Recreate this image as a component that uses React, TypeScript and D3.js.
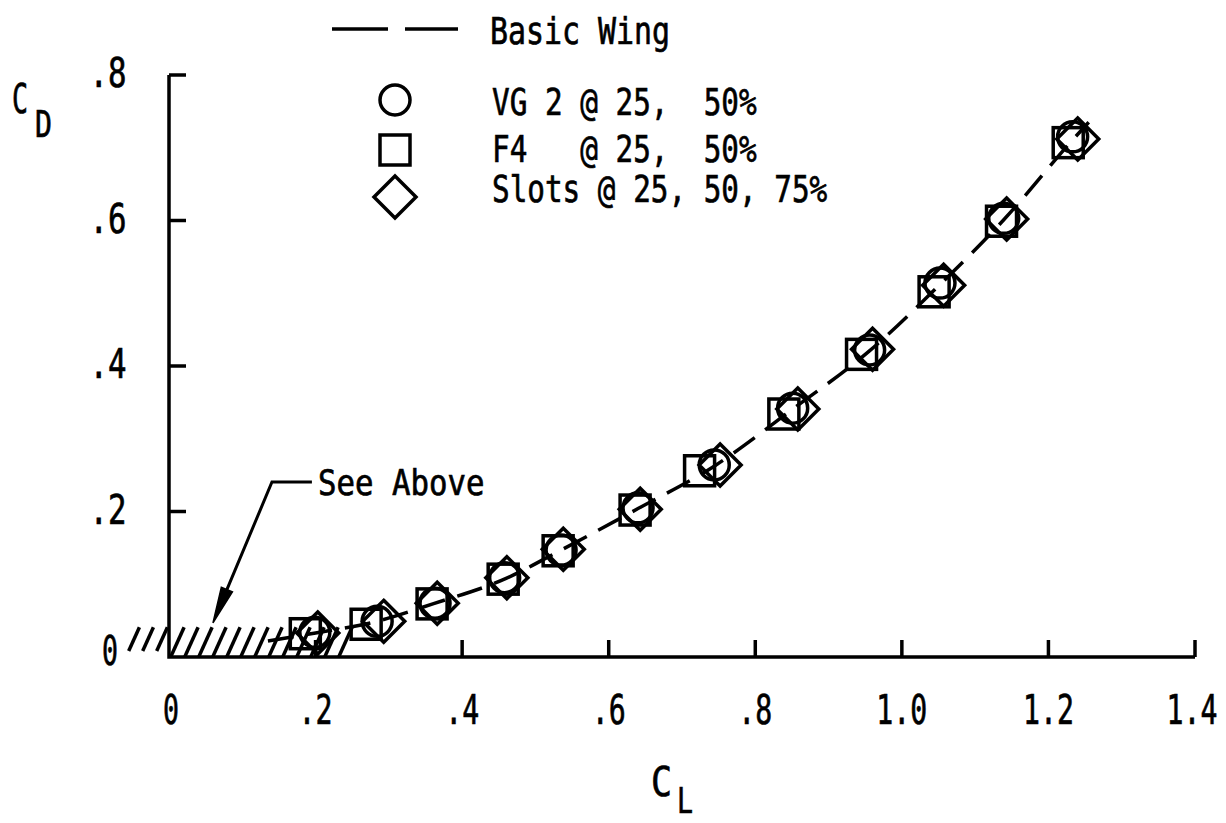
import React from "react";
import * as d3 from "d3";

// ---- Data ----
const clTicks = [0, 0.2, 0.4, 0.6, 0.8, 1.0, 1.2, 1.4];
const clTickLabels = ["0", ".2", ".4", ".6", ".8", "1.0", "1.2", "1.4"];
const cdTicks = [0, 0.2, 0.4, 0.6, 0.8];
const cdTickLabels = ["0", ".2", ".4", ".6", ".8"];

// Basic wing (dashed curve)
const basicCL = [0.135, 0.2, 0.28, 0.36, 0.46, 0.535, 0.64, 0.745, 0.85, 0.955, 1.05, 1.14, 1.235, 1.255];
const basicCD = [0.022, 0.033, 0.048, 0.073, 0.108, 0.147, 0.204, 0.263, 0.34, 0.42, 0.51, 0.602, 0.713, 0.735];

// VG 2 @ 25, 50% (circles)
const vgCL = [0.199, 0.284, 0.363, 0.458, 0.535, 0.64, 0.744, 0.851, 0.956, 1.052, 1.139, 1.233];
const vgCD = [0.034, 0.049, 0.074, 0.109, 0.147, 0.205, 0.264, 0.342, 0.422, 0.514, 0.603, 0.715];

// F4 @ 25, 50% (squares)
const f4CL = [0.186, 0.269, 0.359, 0.456, 0.531, 0.636, 0.724, 0.839, 0.945, 1.044, 1.136, 1.227];
const f4CD = [0.032, 0.045, 0.073, 0.107, 0.146, 0.202, 0.256, 0.334, 0.416, 0.502, 0.599, 0.707];

// Slots @ 25, 50, 75% (diamonds)
const slotCL = [0.203, 0.293, 0.366, 0.461, 0.538, 0.643, 0.752, 0.858, 0.96, 1.057, 1.143, 1.24];
const slotCD = [0.033, 0.049, 0.074, 0.109, 0.148, 0.203, 0.264, 0.341, 0.423, 0.511, 0.602, 0.712];

// Hatched "see above" region (CL range, CD height)
const hatchCL = [-0.055, 0.245];
const hatchCD = 0.041;

// "See Above" annotation anchors (data coords)
const noteTip = [0.06, 0.047];
const noteElbow = [0.1405, 0.2405];
const noteEnd = [0.195, 0.2405];

const legendItems = [
  { shape: "circle", label: "VG 2 @ 25,  50%" },
  { shape: "square", label: "F4   @ 25,  50%" },
  { shape: "diamond", label: "Slots @ 25, 50, 75%" },
];

const FONT = "'DejaVu Sans Mono', 'Liberation Mono', monospace";
const MONO_ADV = 0.602;

function T({ x, y, text, size, adv, anchor = "start" }: any) {
  const sx = adv / (MONO_ADV * size);
  return (
    <text
      transform={`translate(${x},${y}) scale(${sx},1)`}
      x={0}
      y={0}
      fontFamily={FONT}
      fontSize={size}
      textAnchor={anchor}
      fill="#000"
      stroke="#000"
      strokeWidth={0.7}
      style={{ whiteSpace: "pre" }}
    >
      {text}
    </text>
  );
}

function Marker({ shape, cx, cy }: any) {
  const sw = 3.5;
  if (shape === "circle") return <circle cx={cx} cy={cy} r={15} fill="none" stroke="#000" strokeWidth={sw} />;
  if (shape === "square")
    return <rect x={cx - 15} y={cy - 15} width={30} height={30} fill="none" stroke="#000" strokeWidth={sw} />;
  const h = 21;
  return (
    <path
      d={`M${cx},${cy - h}L${cx + h},${cy}L${cx},${cy + h}L${cx - h},${cy}Z`}
      fill="none"
      stroke="#000"
      strokeWidth={sw}
      strokeLinejoin="miter"
    />
  );
}

export default function App() {
  const W = 1226;
  const H = 823;
  const x = d3.scaleLinear().domain([0, 1.4]).range([169, 1195]);
  const y = d3.scaleLinear().domain([0, 0.8]).range([657, 75]);

  const basicPts: [number, number][] = basicCL.map((c, i) => [c, basicCD[i]]);
  const line = d3
    .line<[number, number]>()
    .x((d) => x(d[0]))
    .y((d) => y(d[1]))
    .curve(d3.curveMonotoneX);

  // hatch slashes
  const stepPx = 14;
  const x0 = x(hatchCL[0]);
  const x1 = x(hatchCL[1]);
  const slashes = d3.range(x0, x1, stepPx).map((px) => {
    const bottom = px < x(0) - 2 ? y(0) - 6 : y(0);
    const top = y(hatchCD);
    const dx = (bottom - top) * 0.45;
    return { xa: px, ya: bottom, xb: px + dx, yb: top };
  });

  // arrow
  const tipX = x(noteTip[0]);
  const tipY = y(noteTip[1]);
  const elX = x(noteElbow[0]);
  const elY = y(noteElbow[1]);
  const vx = elX - tipX;
  const vy = elY - tipY;
  const vl = Math.hypot(vx, vy);
  const ux = vx / vl;
  const uy = vy / vl;
  const ah = 36;
  const aw = 6;
  const bx = tipX + ux * ah;
  const by = tipY + uy * ah;
  const arrowHead = `M${tipX},${tipY}L${bx - uy * aw},${by + ux * aw}L${bx + uy * aw},${by - ux * aw}Z`;

  const series = [
    { shape: "square", cl: f4CL, cd: f4CD },
    { shape: "circle", cl: vgCL, cd: vgCD },
    { shape: "diamond", cl: slotCL, cd: slotCD },
  ];

  return (
    <svg
      width={W}
      height={H}
      style={{ position: "absolute", left: 0, top: 0, display: "block", background: "#fff" }}
    >
      <rect x={0} y={0} width={W} height={H} fill="#fff" />

      {/* Legend */}
      <line x1={332} y1={29} x2={458} y2={29} stroke="#000" strokeWidth={3.5} strokeDasharray="56 17" />
      <T x={490} y={44} text="Basic Wing" size={38} adv={18} />
      {legendItems.map((it, i) => {
        const cy = [100, 150, 197][i];
        const by = [115, 162, 202][i];
        return (
          <g key={it.label}>
            <Marker shape={it.shape} cx={395} cy={cy} />
            <T x={492} y={by} text={it.label} size={38} adv={17.65} />
          </g>
        );
      })}

      {/* Hatch */}
      <g stroke="#000" strokeWidth={3.5} strokeLinecap="butt">
        {slashes.map((s, i) => (
          <line key={i} x1={s.xa} y1={s.ya} x2={s.xb} y2={s.yb} />
        ))}
      </g>

      {/* Axes */}
      <path
        d={`M${x(0)},${y(0.8)}V${y(0)}H${x(1.4)}`}
        fill="none"
        stroke="#000"
        strokeWidth={3.5}
      />
      {cdTicks.slice(1).map((t) => (
        <line key={"yt" + t} x1={x(0)} y1={y(t)} x2={x(0) + 17} y2={y(t)} stroke="#000" strokeWidth={3.5} />
      ))}
      {clTicks.slice(1).map((t) => (
        <line key={"xt" + t} x1={x(t)} y1={y(0)} x2={x(t)} y2={y(0) - 17} stroke="#000" strokeWidth={3.5} />
      ))}

      {/* Tick labels */}
      {cdTicks.map((t, i) => (
        <T
          key={"yl" + t}
          x={i === 0 ? 110 : 108}
          y={y(t) + (i === 0 ? 8 : 12)}
          text={cdTickLabels[i]}
          size={41}
          adv={i === 0 ? 16 : 18.5}
          anchor="middle"
        />
      ))}
      {clTicks.map((t, i) => (
        <T
          key={"xl" + t}
          x={x(t) + (i === 0 ? 2 : i === clTicks.length - 1 ? -3 : 0)}
          y={y(0) + 67}
          text={clTickLabels[i]}
          size={41}
          adv={i === 0 ? 16 : 17}
          anchor="middle"
        />
      ))}

      {/* Axis titles */}
      <T x={12} y={113} text="C" size={41} adv={16} />
      <T x={35} y={137} text="D" size={37} adv={17} />
      <T x={651} y={796} text="C" size={41} adv={21} />
      <T x={677} y={813} text="L" size={35} adv={16} />

      {/* Basic wing curve */}
      <path
        d={line(basicPts) || ""}
        fill="none"
        stroke="#000"
        strokeWidth={3.5}
        strokeDasharray="26 13"
      />

      {/* Data markers */}
      {series.map((s) =>
        s.cl.map((c, i) => <Marker key={s.shape + i} shape={s.shape} cx={x(c)} cy={y(s.cd[i])} />)
      )}

      {/* See Above annotation */}
      <path
        d={`M${x(noteEnd[0])},${y(noteEnd[1])}H${elX}L${bx},${by}`}
        fill="none"
        stroke="#000"
        strokeWidth={3}
      />
      <path d={arrowHead} fill="#000" stroke="#000" strokeWidth={1.5} />
      <T x={318} y={495} text="See Above" size={35} adv={18.5} />
    </svg>
  );
}
